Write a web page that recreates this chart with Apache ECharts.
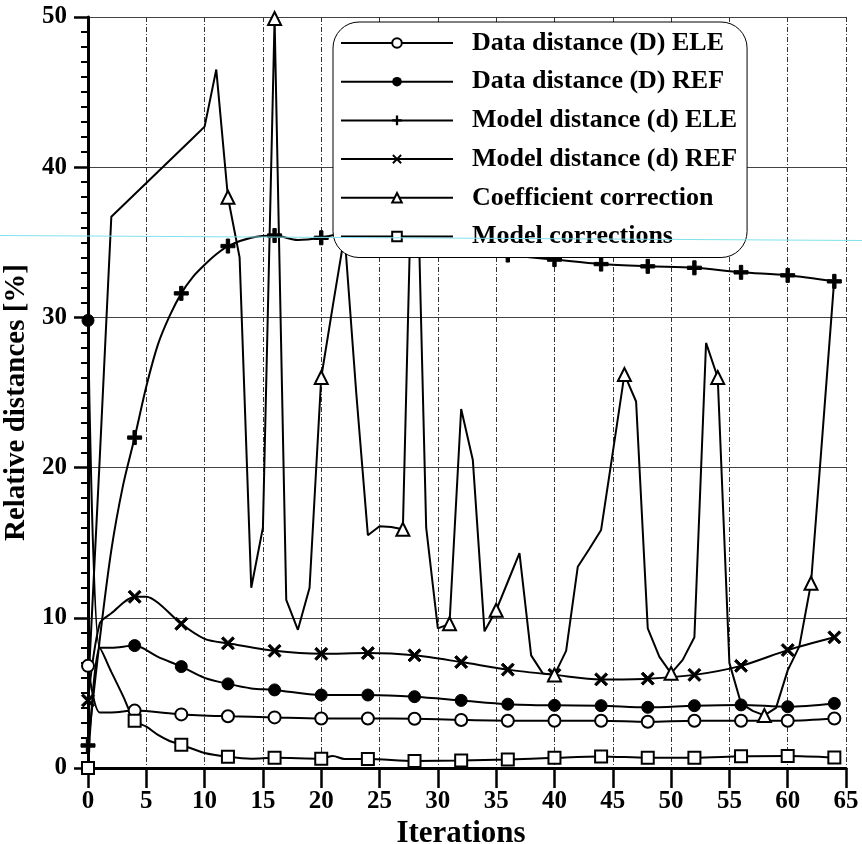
<!DOCTYPE html>
<html><head><meta charset="utf-8">
<script src="https://cdn.jsdelivr.net/npm/echarts@6/dist/echarts.min.js"></script>
<style>html,body{margin:0;padding:0;background:#fff}#c{width:862px;height:844px}</style>
</head><body><div id="c"></div>
<script>
// ---------- data ----------
const seriesNames = [
  'Data distance (D) ELE',
  'Data distance (D) REF',
  'Model distance (d) ELE',
  'Model distance (d) REF',
  'Coefficient correction',
  'Model corrections'
];
const xTicks = [0,5,10,15,20,25,30,35,40,45,50,55,60,65];
const yTicks = [0,10,20,30,40,50];
const markedIters = [0,4,8,12,16,20,24,28,32,36,40,44,48,52,56,60,64];

const dataEleX = [0,1,2,4,8,12,16,20,24,28,32,36,40,44,48,52,56,60,64];
const dataEleY = [6.8,3.7,3.7,3.82,3.57,3.45,3.37,3.3,3.3,3.28,3.2,3.15,3.15,3.15,3.08,3.15,3.15,3.15,3.3];

const dataRefX = [0,1,2,4,6,8,10,12,14,16,20,24,28,32,36,40,44,48,52,56,60,64];
const dataRefY = [29.8,8.0,8.0,8.15,7.4,6.75,6.0,5.6,5.3,5.2,4.86,4.86,4.75,4.5,4.25,4.17,4.15,4.04,4.15,4.2,4.08,4.3];

const modelEleX = [0,1,2,3,4,5,6,7,8,9,10,11,12,14,16,18,20,22,24,28,32,36,40,44,48,52,56,60,64];
const modelEleY = [1.5,8.5,14.5,18.8,22.0,25.4,28.2,30.1,31.6,32.7,33.5,34.2,34.75,35.3,35.45,35.15,35.3,35.6,35.5,35.1,34.6,34.15,33.85,33.55,33.4,33.3,33.0,32.8,32.4];

const modelRefX = [0,1,2,4,5,6,8,10,12,16,20,24,28,32,36,40,44,48,52,56,60,64];
const modelRefY = [4.5,9.6,10.3,11.4,11.4,11.0,9.6,8.6,8.3,7.8,7.6,7.65,7.5,7.05,6.55,6.2,5.9,5.95,6.2,6.8,7.85,8.7];

const coefX = [0,1,2,3,4,5,6,7,8,9,10,11,12,13,14,15,16,17,18,19,20,21,22,23,24,25,26,27,28,29,30,31,32,33,34,35,36,37,38,39,40,41,42,43,44,45,46,47,48,49,50,51,52,53,54,55,56,57,58,59,60,61,62,63,64];
const coefY = [5,20.5,36.7,37.45,38.2,38.95,39.7,40.45,41.2,41.95,42.7,46.5,38.0,34.0,12.0,16.0,49.9,11.2,9.2,12.0,26.0,30.8,35.5,25.0,15.5,16.1,16.05,15.9,47.5,16.0,9.3,9.6,23.9,20.5,9.1,10.5,12.4,14.3,7.5,6.3,6.2,7.8,13.4,14.6,15.85,21.0,26.2,24.4,9.3,7.4,6.3,7.2,8.7,28.3,26.0,7.0,4.3,3.8,3.5,4.0,6.5,8.1,12.3,22.4,32.6];
const coefMarked = [12,16,20,27,31,35,40,46,50,54,58,62];

const corrX = [0,1,2,3,4,5,6,7,8,10,12,14,16,20,21,22,24,28,32,36,40,44,48,52,56,60,64];
const corrY = [0,8.0,6.4,4.8,3.15,2.75,2.2,1.8,1.55,1.0,0.75,0.62,0.68,0.62,0.8,0.6,0.6,0.47,0.5,0.56,0.68,0.77,0.68,0.68,0.78,0.8,0.7];

// ---------- chart ----------
const FONT = '"Liberation Serif","Times New Roman",serif';
const plusPath = 'path://M3.8,0H6.2V3.8H10V6.2H6.2V10H3.8V6.2H0V3.8H3.8Z';
const crossPath = 'path://M0,1.4L1.4,0L5,3.6L8.6,0L10,1.4L6.4,5L10,8.6L8.6,10L5,6.4L1.4,10L0,8.6L3.6,5Z';

function build(xs, ys, marks) {
  return xs.map((x, i) => {
    const item = { value: [x, ys[i]] };
    if (marks.indexOf(x) < 0) item.symbol = 'none';
    return item;
  });
}

const common = {
  type: 'line',
  showSymbol: true,
  lineStyle: { color: '#000', width: 2 },
  itemStyle: { color: '#000', borderColor: '#000' },
  emphasis: { disabled: true },
  animation: false
};

const series = [
  Object.assign({}, common, { name: seriesNames[0], smooth: 0.3, symbol: 'emptyCircle', symbolSize: 12,
    data: build(dataEleX, dataEleY, markedIters) }),
  Object.assign({}, common, { name: seriesNames[1], smooth: 0.3, symbol: 'circle', symbolSize: 12,
    data: build(dataRefX, dataRefY, markedIters) }),
  Object.assign({}, common, { name: seriesNames[2], smooth: 0.3, symbol: plusPath, symbolSize: 14,
    data: build(modelEleX, modelEleY, markedIters) }),
  Object.assign({}, common, { name: seriesNames[3], smooth: 0.3, symbol: crossPath, symbolSize: 13,
    data: build(modelRefX, modelRefY, markedIters) }),
  Object.assign({}, common, { name: seriesNames[4], smooth: false, symbol: 'emptyTriangle', symbolSize: 13,
    data: build(coefX, coefY, coefMarked) }),
  Object.assign({}, common, { name: seriesNames[5], smooth: 0.3, symbol: 'emptyRect', symbolSize: 12,
    data: build(corrX, corrY, markedIters) })
];

const chart = echarts.init(document.getElementById('c'), null, { renderer: 'canvas' });
chart.setOption({
  backgroundColor: '#fff',
  animation: false,
  grid: { left: 88, right: 16, top: 17, bottom: 76, containLabel: false, outerBoundsMode: 'none' },
  xAxis: {
    type: 'value', min: xTicks[0], max: xTicks[xTicks.length - 1], interval: xTicks[1] - xTicks[0],
    name: 'Iterations', nameLocation: 'middle', nameGap: 45,
    nameTextStyle: { fontFamily: FONT, fontWeight: 'bold', fontSize: 31, color: '#000', padding: [0, 12, 0, 0] },
    axisLine: { show: true, onZero: false, lineStyle: { color: '#000', width: 3 } },
    axisTick: { show: true, length: 20, lineStyle: { color: '#000', width: 2.5 } },
    axisLabel: { margin: 21, fontFamily: FONT, fontWeight: 'bold', fontSize: 25, color: '#000' },
    splitLine: { show: true, lineStyle: { color: '#333', width: 1, type: [5, 2, 1, 2] } }
  },
  yAxis: {
    type: 'value', min: yTicks[0], max: yTicks[yTicks.length - 1], interval: yTicks[1] - yTicks[0],
    name: 'Relative distances [%]', nameLocation: 'middle', nameGap: 47, nameRotate: 90,
    nameTextStyle: { fontFamily: FONT, fontWeight: 'bold', fontSize: 29, color: '#000', padding: [0, 20, 0, 0] },
    axisLine: { show: true, onZero: false, lineStyle: { color: '#000', width: 3 } },
    axisTick: { show: true, length: 14, lineStyle: { color: '#000', width: 2.5 } },
    minorTick: { show: true, splitNumber: 10, length: 7, lineStyle: { color: '#000', width: 2 } },
    axisLabel: { margin: 21, fontFamily: FONT, fontWeight: 'bold', fontSize: 25, color: '#000' },
    splitLine: { show: true, lineStyle: { color: '#444', width: 1 } }
  },
  legend: {
    orient: 'vertical', left: 333, top: 22,
    padding: [8, 10, 8, 7],
    itemWidth: 112, itemHeight: 12, itemGap: 12.7,
    backgroundColor: '#fff', borderColor: '#000', borderWidth: 1, borderRadius: 26,
    textStyle: { fontFamily: FONT, fontWeight: 'bold', fontSize: 26, color: '#000', lineHeight: 24, padding: [0, 0, 0, 14] },
    data: seriesNames
  },
  graphic: [{
    type: 'line', z: 100, silent: true,
    shape: { x1: 0, y1: 235.5, x2: 862, y2: 240.5 },
    style: { stroke: '#7fe3ec', lineWidth: 1 }
  }],
  series: series
});
</script></body></html>
